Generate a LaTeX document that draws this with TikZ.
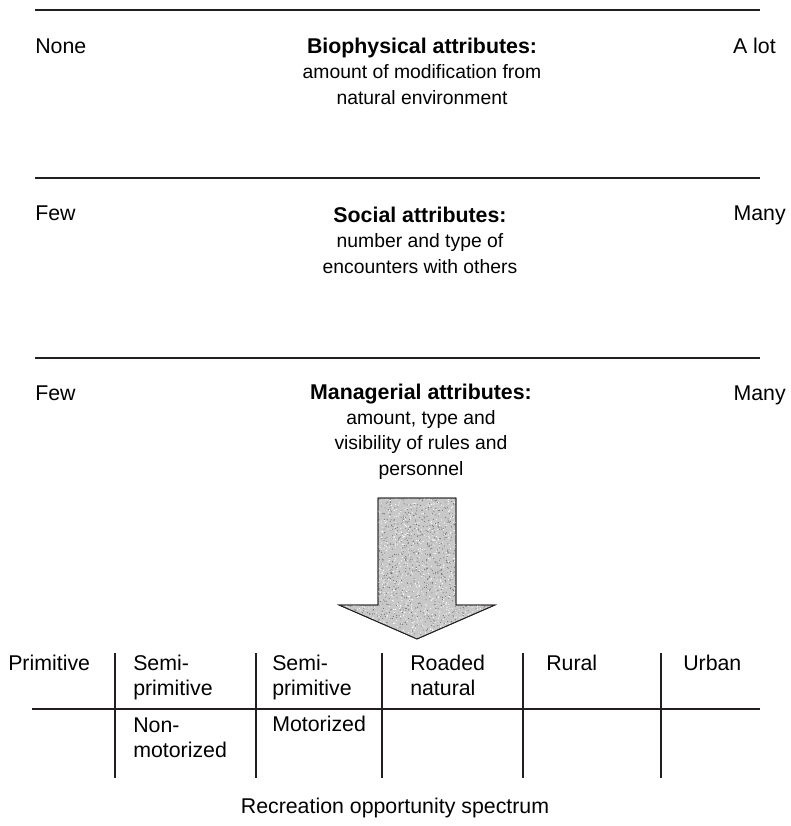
\documentclass[tikz,border=0pt]{standalone}
\usepackage{fontspec}
\setmainfont{Liberation Sans}
\usetikzlibrary{positioning, calc}
\definecolor{mydark}{RGB}{35,31,32}
\definecolor{mystip}{RGB}{200,200,200}
\tikzset{
  rule/.style={line width=1.1pt, color=mydark},
  endlabel/.style={font=\fontsize{16}{19}\selectfont, inner sep=0pt},
  attrtext/.style={align=center, font=\fontsize{14.5}{19}\selectfont, inner sep=0pt, anchor=base},
  cell/.style={align=left, font=\fontsize{16}{18.5}\selectfont, inner sep=0pt, anchor=base west},
  bigarrow/.style={draw=mydark, line width=0.6pt, fill=mystip}
}
\newcommand{\attrhead}[1]{{\bfseries\fontsize{16}{19}\selectfont #1}}

\begin{document}
\begin{tikzpicture}[x=0.75pt, y=-0.75pt]
  \useasboundingbox (0,0) rectangle (791,826);

  % --- ATTRIBUTE SCALES ---
  \draw[rule] (35,10) -- (760,10);
  \node[endlabel, anchor=base west] (bio_lo) at (35,53) {None};
  \node[endlabel, anchor=base east] (bio_hi) at (776,53) {A lot};
  \node[attrtext] (bio) at (422,104) {\attrhead{Biophysical attributes:}\\amount of modification from\\natural environment};

  \draw[rule] (35,178) -- (760,178);
  \node[endlabel, anchor=base west] (soc_lo) at (35,220) {Few};
  \node[endlabel, anchor=base east] (soc_hi) at (786,220) {Many};
  \node[attrtext] (soc) at (420,273) {\attrhead{Social attributes:}\\number and type of\\encounters with others};

  \draw[rule] (35,358) -- (760,358);
  \node[endlabel, anchor=base west] (man_lo) at (35,400) {Few};
  \node[endlabel, anchor=base east] (man_hi) at (786,400) {Many};
  \node[attrtext] (man) at (421,475) {\attrhead{Managerial attributes:}\\amount, type and\\visibility of rules and\\personnel};

  % --- BIG ARROW ---
  \begin{scope}
    \path[bigarrow] (378,498) -- (456,498) -- (456,605) -- (495,605) -- (417,639)
      -- (339,605) -- (378,605) -- cycle;
    \clip (378,498) -- (456,498) -- (456,605) -- (495,605) -- (417,639)
      -- (339,605) -- (378,605) -- cycle;
    \pgfmathsetseed{11}
    \foreach \i in {1,...,1600}
      \fill[black!55] ({339+156*rnd},{498+141*rnd}) circle (0.55);
    \foreach \i in {1,...,1200}
      \fill[white] ({339+156*rnd},{498+141*rnd}) circle (0.6);
  \end{scope}
  \draw[draw=mydark, line width=0.6pt] (378,498) -- (456,498) -- (456,605) -- (495,605) -- (417,639)
      -- (339,605) -- (378,605) -- cycle;

  % --- SPECTRUM TABLE ---
  \draw[rule] (32,709) -- (760,709);
  \foreach \cx in {115,256,382,523,661}
    \draw[rule] (\cx,653) -- (\cx,778);

  \node[cell] (primitive) at (8,670) {Primitive};
  \node[cell] (semi_a) at (133,695) {Semi-\\primitive};
  \node[cell] (nonmotor) at (133,757) {Non-\\motorized};
  \node[cell] (semi_b) at (272,695) {Semi-\\primitive};
  \node[cell] (motor) at (272,731) {Motorized};
  \node[cell] (roaded) at (410,695) {Roaded\\natural};
  \node[cell] (rural) at (546,670) {Rural};
  \node[cell] (urban) at (683,670) {Urban};

  \node[endlabel, anchor=base] (ros) at (395,813) {Recreation opportunity spectrum};
\end{tikzpicture}
\end{document}
